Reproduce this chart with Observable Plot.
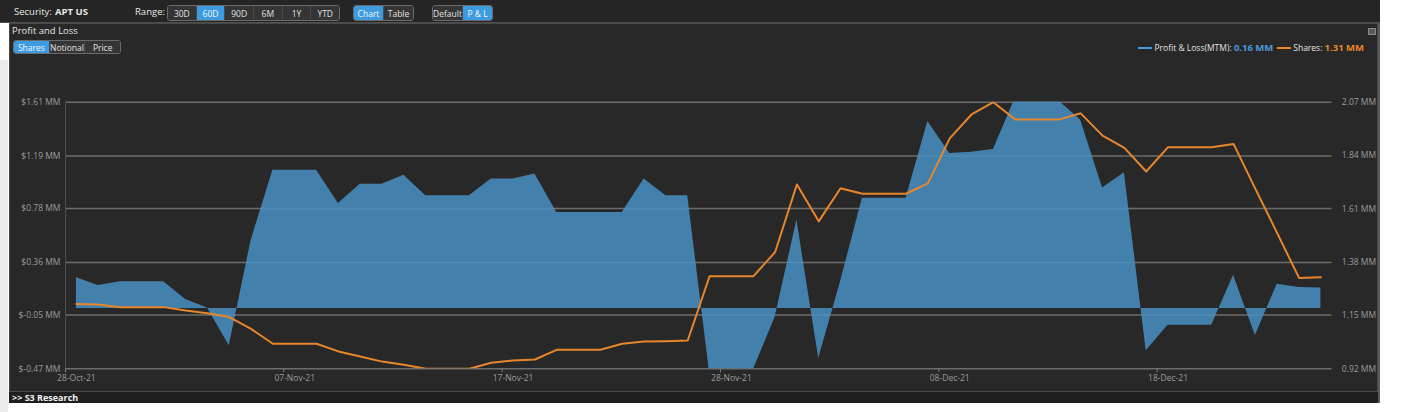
<!DOCTYPE html>
<html>
<head>
<meta charset="utf-8">
<script src="https://cdn.jsdelivr.net/npm/d3@7"></script>
<script src="https://cdn.jsdelivr.net/npm/@observablehq/plot@0.6"></script>
<style>
  body { margin: 0; background: #ffffff; font-family: "Open Sans", Lato, sans-serif; }
  #root { position: relative; width: 1402px; height: 412px; overflow: hidden; background: #ffffff; }
  .abs { position: absolute; }
  #topbar { left: 0; top: 0; width: 1380px; height: 22px; background: #252525; border-bottom: 1px solid #4e4e4e; }
  .lbl { position: absolute; color: #e6e6e6; font-size: 9.5px; line-height: 12px; white-space: nowrap; }
  .grp { position: absolute; display: flex; border: 1px solid #6a6a6a; border-radius: 3px; overflow: hidden; box-sizing: border-box; }
  .grp div { flex: 1; text-align: center; color: #e0e0e0; font-size: 8.5px; background: #353535; border-left: 1px solid #4a4a4a; display: flex; align-items: center; justify-content: center; }
  .grp div:first-child { border-left: none; }
  .grp div.sel { background: #3d9be0; color: #f4f8fc; }
  #panel { left: 9px; top: 23px; width: 1369px; height: 369px; background: #282828; border: 1px solid #4a4a4a; box-sizing: border-box; }
  #legend { position: absolute; top: 41px; right: 38px; display: flex; align-items: center; font-size: 8.5px; color: #e0e0e0; white-space: nowrap; }
  #legend .sw { width: 14px; height: 2px; margin-right: 2px; }
  #legend b { font-size: 9.5px; margin-right: 4px; }
  #bottombar { left: 9px; top: 392px; width: 1369px; height: 11px; background: #1f1f1f; overflow: hidden; }
  #bottombar span { position: absolute; left: 3px; top: 0px; color: #f0f0f0; font-weight: bold; font-size: 9px; line-height: 11px; }
  .chart { position: absolute; left: 0; top: 90px; }
</style>
</head>
<body>
<div id="root">
  <div class="abs" style="left:0;top:60px;width:8px;height:352px;background:#ececec;"></div>
  <div class="abs" style="left:1378px;top:23px;width:2px;height:380px;background:#5a5a5a;"></div>
  <div id="topbar" class="abs">
    <div class="lbl" style="left:14px;top:6px;">Security:</div>
    <div class="lbl" style="left:55px;top:6px;font-weight:bold;">APT US</div>
    <div class="lbl" style="left:135px;top:6px;">Range:</div>
    <div class="grp" style="left:167px;top:5px;width:173px;height:16px;">
      <div>30D</div><div class="sel">60D</div><div>90D</div><div>6M</div><div>1Y</div><div>YTD</div>
    </div>
    <div class="grp" style="left:353px;top:5px;width:61px;height:16px;">
      <div class="sel">Chart</div><div>Table</div>
    </div>
    <div class="grp" style="left:432px;top:5px;width:61px;height:16px;">
      <div>Default</div><div class="sel">P &amp; L</div>
    </div>
  </div>
  <div id="panel" class="abs"></div>
  <div class="lbl" style="left:12px;top:25px;">Profit and Loss</div>
  <div class="grp" style="left:13px;top:40px;width:108px;height:14px;">
    <div class="sel">Shares</div><div>Notional</div><div>Price</div>
  </div>
  <div class="abs" style="left:1368px;top:28px;width:6px;height:5px;border:1px solid #8a8a8a;background:#5a5a5a;"></div>
  <div id="legend">
    <div class="sw" style="background:#4a9ad8;"></div><span>Profit &amp; Loss(MTM):&nbsp;</span><b style="color:#4a9ad8;">0.16 MM</b>
    <div class="sw" style="background:#e8862c;"></div><span>Shares:&nbsp;</span><b style="color:#e8862c;margin-right:0;">1.31 MM</b>
  </div>
  <div id="bottombar" class="abs"><span>&gt;&gt; S3 Research</span></div>
  <div id="c1" class="chart"></div>
  <div id="c2" class="chart"></div>
</div>
<script>
// Tick labels for the category (trading-point) axis
const dateLabels = ["28-Oct-21", "07-Nov-21", "17-Nov-21", "28-Nov-21", "08-Dec-21", "18-Dec-21"];
const dateLabelIndex = [0, 10, 20, 30, 40, 50];

// Left axis (P&L, $MM) and right axis (Shares, MM) ticks
const pnlTicks = [-0.47, -0.05, 0.36, 0.78, 1.19, 1.61];
const sharesTicks = [0.92, 1.15, 1.38, 1.61, 1.84, 2.07];

// Profit & Loss (MTM), $ MM, one value per point
const pnl = [
  0.24, 0.18, 0.21, 0.21, 0.21, 0.07, 0.005, -0.29, 0.53, 1.08,
  1.08, 1.08, 0.82, 0.97, 0.97, 1.04, 0.88, 0.88, 0.88, 1.01,
  1.01, 1.05, 0.75, 0.75, 0.75, 0.75, 1.01, 0.88, 0.88, -0.50,
  -0.55, -0.48, -0.07, 0.69, -0.39, 0.21, 0.86, 0.86, 0.86, 1.46,
  1.21, 1.22, 1.24, 1.64, 1.70, 1.62, 1.47, 0.94, 1.06, -0.33,
  -0.13, -0.13, -0.13, 0.26, -0.21, 0.19, 0.165, 0.16
];

// Shares held, MM
const shares = [
  1.200, 1.197, 1.186, 1.186, 1.186, 1.171, 1.160, 1.143, 1.092, 1.028,
  1.028, 1.028, 0.995, 0.973, 0.951, 0.937, 0.920, 0.920, 0.920, 0.946,
  0.956, 0.960, 1.002, 1.002, 1.002, 1.028, 1.038, 1.039, 1.042, 1.319,
  1.319, 1.319, 1.423, 1.715, 1.556, 1.699, 1.675, 1.675, 1.675, 1.720,
  1.914, 2.017, 2.070, 1.995, 1.995, 1.995, 2.022, 1.926, 1.873, 1.771,
  1.876, 1.876, 1.876, 1.890, 1.696, 1.505, 1.312, 1.315
];

const data = pnl.map((v, i) => ({x: i + 0.5, pnl: v, shares: shares[i]}));
const nPoints = pnl.length;

const common = {
  width: 1380,
  height: 300,
  marginTop: 11.7,
  marginBottom: 21.7,
  marginLeft: 65,
  marginRight: 48.7,
  style: {background: "transparent", color: "#9c9c9c", fontSize: "8.5px", fontFamily: "'Open Sans', Lato, sans-serif"}
};

const labelAt = new Map(dateLabelIndex.map((d, i) => [d + 0.5, dateLabels[i]]));

const p1 = Plot.plot({
  ...common,
  x: {domain: [0, nPoints]},
  y: {domain: [pnlTicks[0], pnlTicks[pnlTicks.length - 1]]},
  marks: [
    Plot.ruleY(pnlTicks, {stroke: "#6c6c6c", strokeWidth: 1.5}),
    Plot.ruleX([0], {stroke: "#4c4c4c"}),
    Plot.areaY(data, {x: "x", y: "pnl", fill: "#4890c2", fillOpacity: 0.86, clip: true}),
    Plot.axisY({ticks: pnlTicks, tickSize: 0, tickPadding: 5, tickFormat: d => `$${d.toFixed(2)} MM`, label: null}),
    Plot.axisX({ticks: dateLabelIndex, tickSize: 4, tickFormat: () => "", label: null, stroke: "#7a7a7a"}),
    Plot.axisX({ticks: dateLabelIndex.map(d => d + 0.5), tickSize: 0, tickPadding: 6, tickFormat: d => labelAt.get(d), label: null})
  ]
});
document.getElementById("c1").appendChild(p1);

const p2 = Plot.plot({
  ...common,
  x: {domain: [0, nPoints], axis: null},
  y: {domain: [sharesTicks[0], sharesTicks[sharesTicks.length - 1]]},
  marks: [
    Plot.line(data, {x: "x", y: "shares", stroke: "#e8862c", strokeWidth: 2, clip: true}),
    Plot.axisY({anchor: "right", ticks: sharesTicks, tickSize: 0, tickPadding: 10, tickFormat: d => `${d.toFixed(2)} MM`, label: null})
  ]
});
document.getElementById("c2").appendChild(p2);
</script>
</body>
</html>
